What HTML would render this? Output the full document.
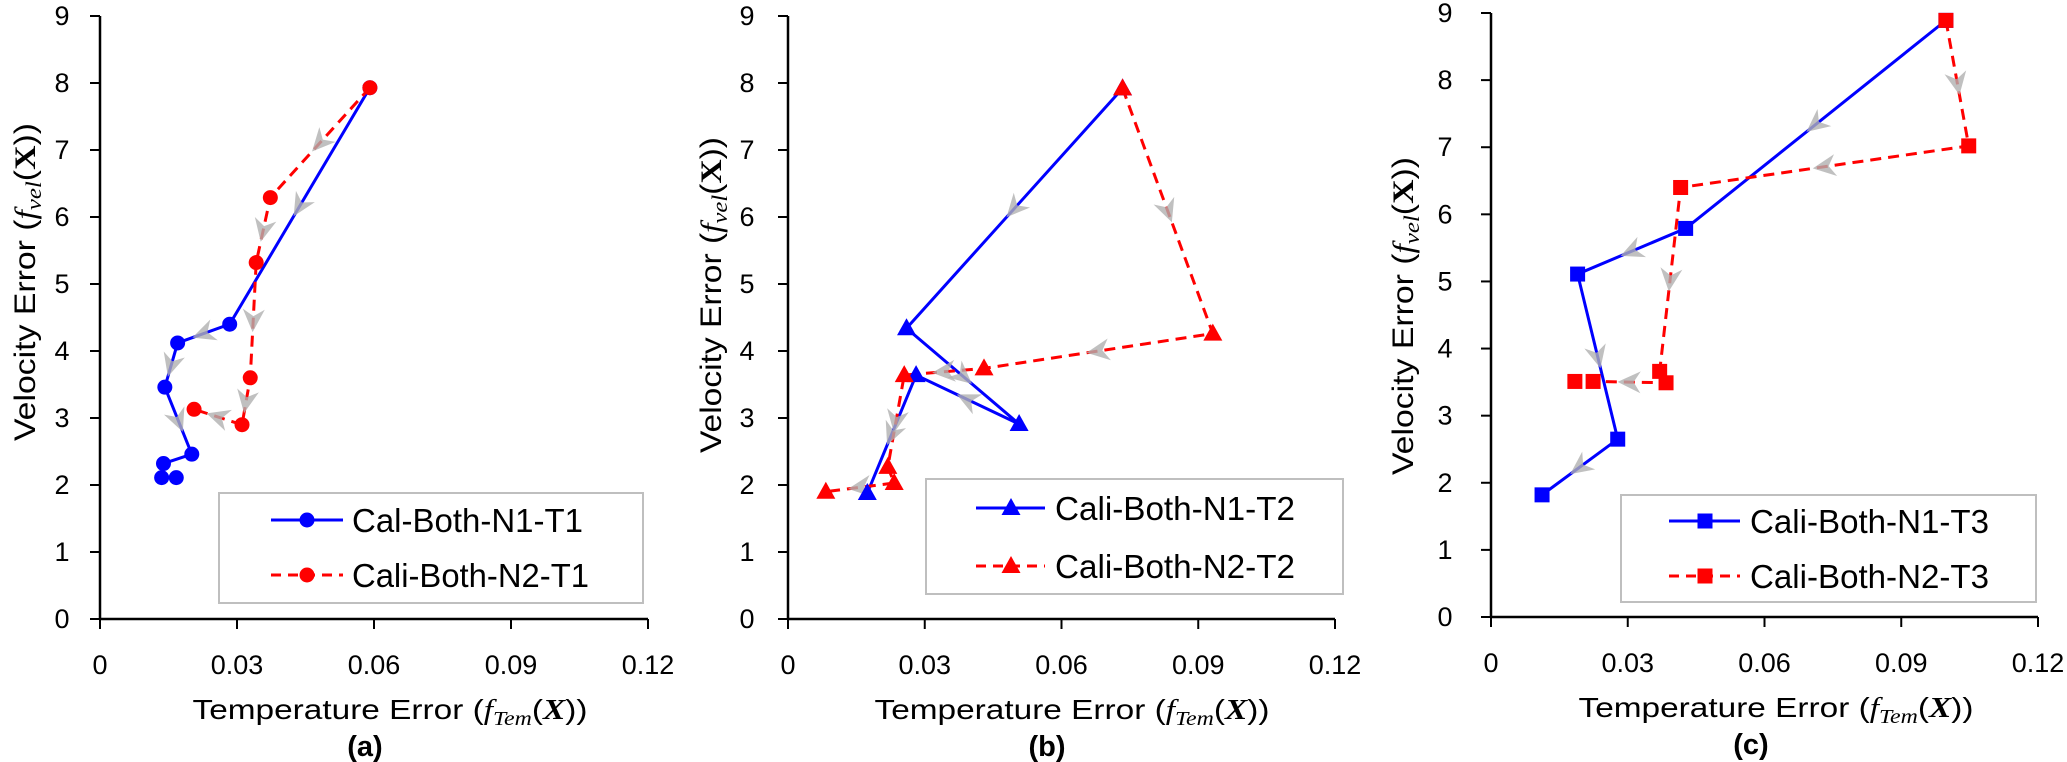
<!DOCTYPE html>
<html><head><meta charset="utf-8"><style>
html,body{margin:0;padding:0;background:#fff;}
svg{display:block;font-family:"Liberation Sans",sans-serif;}
</style></head><body>
<svg id="chart" width="2067" height="762" viewBox="0 0 2067 762" xmlns="http://www.w3.org/2000/svg"></svg>
<script>
// ---- data (x = temperature error, y = velocity error) ----
const xTicks = [0, 0.03, 0.06, 0.09, 0.12];
const xTickLabels = ["0", "0.03", "0.06", "0.09", "0.12"];
const yTicks = [0,1,2,3,4,5,6,7,8,9];
const panelLabels = ["(a)", "(b)", "(c)"];
const legendNames = [["Cal-Both-N1-T1","Cali-Both-N2-T1"],["Cali-Both-N1-T2","Cali-Both-N2-T2"],["Cali-Both-N1-T3","Cali-Both-N2-T3"]];

const aBlueX = [0.0591, 0.0284, 0.0170, 0.0142, 0.0201, 0.0139, 0.0135, 0.0167];
const aBlueY = [7.93, 4.40, 4.12, 3.46, 2.46, 2.32, 2.11, 2.11];
const aRedX  = [0.0591, 0.0373, 0.0342, 0.0329, 0.0311, 0.0206];
const aRedY  = [7.93, 6.29, 5.32, 3.60, 2.90, 3.13];

const bBlueX = [0.0734, 0.0260, 0.0507, 0.0281, 0.0174];
const bBlueY = [7.92, 4.34, 2.91, 3.64, 1.88];
const bRedX  = [0.0734, 0.0932, 0.0430, 0.0255, 0.0219, 0.0233, 0.0083];
const bRedY  = [7.92, 4.26, 3.74, 3.64, 2.27, 2.03, 1.90];

const cBlueX = [0.0998, 0.0427, 0.0190, 0.0278, 0.0112];
const cBlueY = [8.89, 5.79, 5.11, 2.65, 1.82];
const cRedX  = [0.0998, 0.1048, 0.0416, 0.0370, 0.0384, 0.0224, 0.0184];
const cRedY  = [8.89, 7.02, 6.40, 3.66, 3.49, 3.51, 3.51];

const NS = "http://www.w3.org/2000/svg";
const svg = document.getElementById("chart");
function mk(tag, attrs, parent){
  const e = document.createElementNS(NS, tag);
  for (const k in attrs) e.setAttribute(k, attrs[k]);
  (parent||svg).appendChild(e);
  return e;
}

const panels = [
  {x0:100, x1:648, y0:619, y9:16, tickLblX:62, ylX:24, ylY:282, ylLen:318, xlX:390, mk:"circle",
   bx:aBlueX, by:aBlueY, rx:aRedX, ry:aRedY, leg:{x:219,y:493,w:424,h:110,r1:520,r2:575,l1:271,l2:343,m:307,t:352,tw:[231,237]}},
  {x0:788, x1:1335, y0:619, y9:16, tickLblX:747, ylX:710, ylY:295, ylLen:316, xlX:1072, mk:"tri",
   bx:bBlueX, by:bBlueY, rx:bRedX, ry:bRedY, leg:{x:926,y:479,w:417,h:115,r1:508,r2:566,l1:976,l2:1045,m:1011,t:1055,tw:[240,240]}},
  {x0:1491, x1:2038, y0:617, y9:13, tickLblX:1445, ylX:1402, ylY:316, ylLen:318, xlX:1776, mk:"sq",
   bx:cBlueX, by:cBlueY, rx:cRedX, ry:cRedY, leg:{x:1621,y:495,w:415,h:107,r1:521,r2:576,l1:1669,l2:1740,m:1705,t:1750,tw:[239,239]}}
];

function marker(kind, cx, cy, color, parent, name){
  let e;
  if (kind==="circle") e = mk("circle",{cx:cx,cy:cy,r:7.5,fill:color},parent);
  else if (kind==="tri") e = mk("polygon",{points:`${cx},${cy-10} ${cx+9.5},${cy+7} ${cx-9.5},${cy+7}`,fill:color},parent);
  else e = mk("rect",{x:cx-7.5,y:cy-7.5,width:15,height:15,fill:color},parent);
  
  
  return e;
}

panels.forEach((p, pi) => {
  const g = mk("g",{});
  
  
  const sx = v => p.x0 + v/0.12*(p.x1-p.x0);
  const sy = v => p.y0 - v/9*(p.y0-p.y9);

  // axes
  const ya = mk("line",{x1:p.x0,y1:p.y9,x2:p.x0,y2:p.y0,stroke:"#000","stroke-width":2.5},g);
  
  
  const xa = mk("line",{x1:p.x0,y1:p.y0,x2:p.x1,y2:p.y0,stroke:"#000","stroke-width":2.5},g);
  
  
  yTicks.forEach(t => {
    mk("line",{x1:p.x0-10,y1:sy(t),x2:p.x0,y2:sy(t),stroke:"#000","stroke-width":2},g);
    const tl = mk("text",{x:p.tickLblX,y:sy(t)+9,"font-size":27,"text-anchor":"middle",fill:"#000"},g);
    tl.textContent = String(t);
    
    
  });
  xTicks.forEach((t,i) => {
    mk("line",{x1:sx(t),y1:p.y0,x2:sx(t),y2:p.y0+10,stroke:"#000","stroke-width":2},g);
    const tl = mk("text",{x:sx(t),y:p.y0+55,"font-size":27,"text-anchor":"middle",fill:"#000"},g);
    tl.textContent = xTickLabels[i];
    
    
  });

  // x title
  const xt = mk("text",{x:p.xlX,y:p.y0+100,"font-size":28,"text-anchor":"middle",fill:"#000",textLength:395,lengthAdjust:"spacingAndGlyphs"},g);
  xt.innerHTML = 'Temperature Error (<tspan font-family="Liberation Serif" font-style="italic">f</tspan><tspan font-family="Liberation Serif" font-style="italic" font-size="20" dy="6">Tem</tspan><tspan dy="-6">(</tspan><tspan font-family="Liberation Serif" font-weight="bold" font-style="italic">X</tspan>))';
  
  
  const pl = mk("text",{x:p.xlX-25,y:p.y0+137,"font-size":29,"font-weight":"bold","text-anchor":"middle",fill:"#000"},g);
  pl.textContent = panelLabels[pi];
  
  

  // y title
  const yt = mk("text",{x:0,y:0,"font-size":30,"text-anchor":"middle",fill:"#000",transform:`translate(${p.ylX+11},${p.ylY}) rotate(-90)`,textLength:p.ylLen,lengthAdjust:"spacingAndGlyphs"},g);
  yt.innerHTML = 'Velocity Error (<tspan font-family="Liberation Serif" font-style="italic">f</tspan><tspan font-family="Liberation Serif" font-style="italic" font-size="22" dy="6">vel</tspan><tspan dy="-6">(</tspan><tspan font-family="Liberation Serif" font-weight="bold">X</tspan>))';
  
  

  // series
  const series = [
    {xs:p.bx, ys:p.by, color:"#0000ff", dash:null, name:"series-n1"},
    {xs:p.rx, ys:p.ry, color:"#ff0000", dash:"11,7", name:"series-n2"}
  ];
  const arrows = [];
  series.forEach(s => {
    const pts = s.xs.map((v,i)=> sx(v)+","+sy(s.ys[i])).join(" ");
    const a = {points:pts,fill:"none",stroke:s.color,"stroke-width":3};
    if (s.dash) a["stroke-dasharray"] = s.dash;
    const ln = mk("polyline",a,g);
    
    
    for (let i=0;i<s.xs.length-1;i++){
      const x1=sx(s.xs[i]), y1=sy(s.ys[i]), x2=sx(s.xs[i+1]), y2=sy(s.ys[i+1]);
      if (Math.hypot(x2-x1,y2-y1) > 45) arrows.push([(x1+x2)/2,(y1+y2)/2,Math.atan2(y2-y1,x2-x1)*180/Math.PI]);
    }
  });
  arrows.forEach(a => {
    const ar = mk("path",{d:"M 12 0 L -11 -11 L -4 0 L -11 11 Z",fill:"#b0b0b0","fill-opacity":0.8,transform:`translate(${a[0]},${a[1]}) rotate(${a[2]})`},g);
    
    
  });
  series.forEach(s => {
    s.xs.forEach((v,i)=> marker(p.mk, sx(v), sy(s.ys[i]), s.color, g, s.name + '-point'));
  });

  // legend
  const L = p.leg;
  const lg = mk("g",{},g);
  
  
  mk("rect",{x:L.x,y:L.y,width:L.w,height:L.h,fill:"#fff",stroke:"#bfbfbf","stroke-width":2},lg);
  [L.r1, L.r2].forEach((ry, k) => {
    const s = series[k];
    const e = mk("g",{},lg);
    
    
    const la = {x1:L.l1,y1:ry,x2:L.l2,y2:ry,stroke:s.color,"stroke-width":3};
    if (s.dash) la["stroke-dasharray"] = "10,7";
    mk("line",la,e);
    marker(p.mk, L.m, ry, s.color, e, 'legend-marker');
    const t = mk("text",{x:L.t,y:ry+12,"font-size":33,fill:"#000",textLength:L.tw[k],lengthAdjust:"spacingAndGlyphs"},e);
    t.textContent = legendNames[pi][k];
    
    
  });
});
</script>
</body></html>
